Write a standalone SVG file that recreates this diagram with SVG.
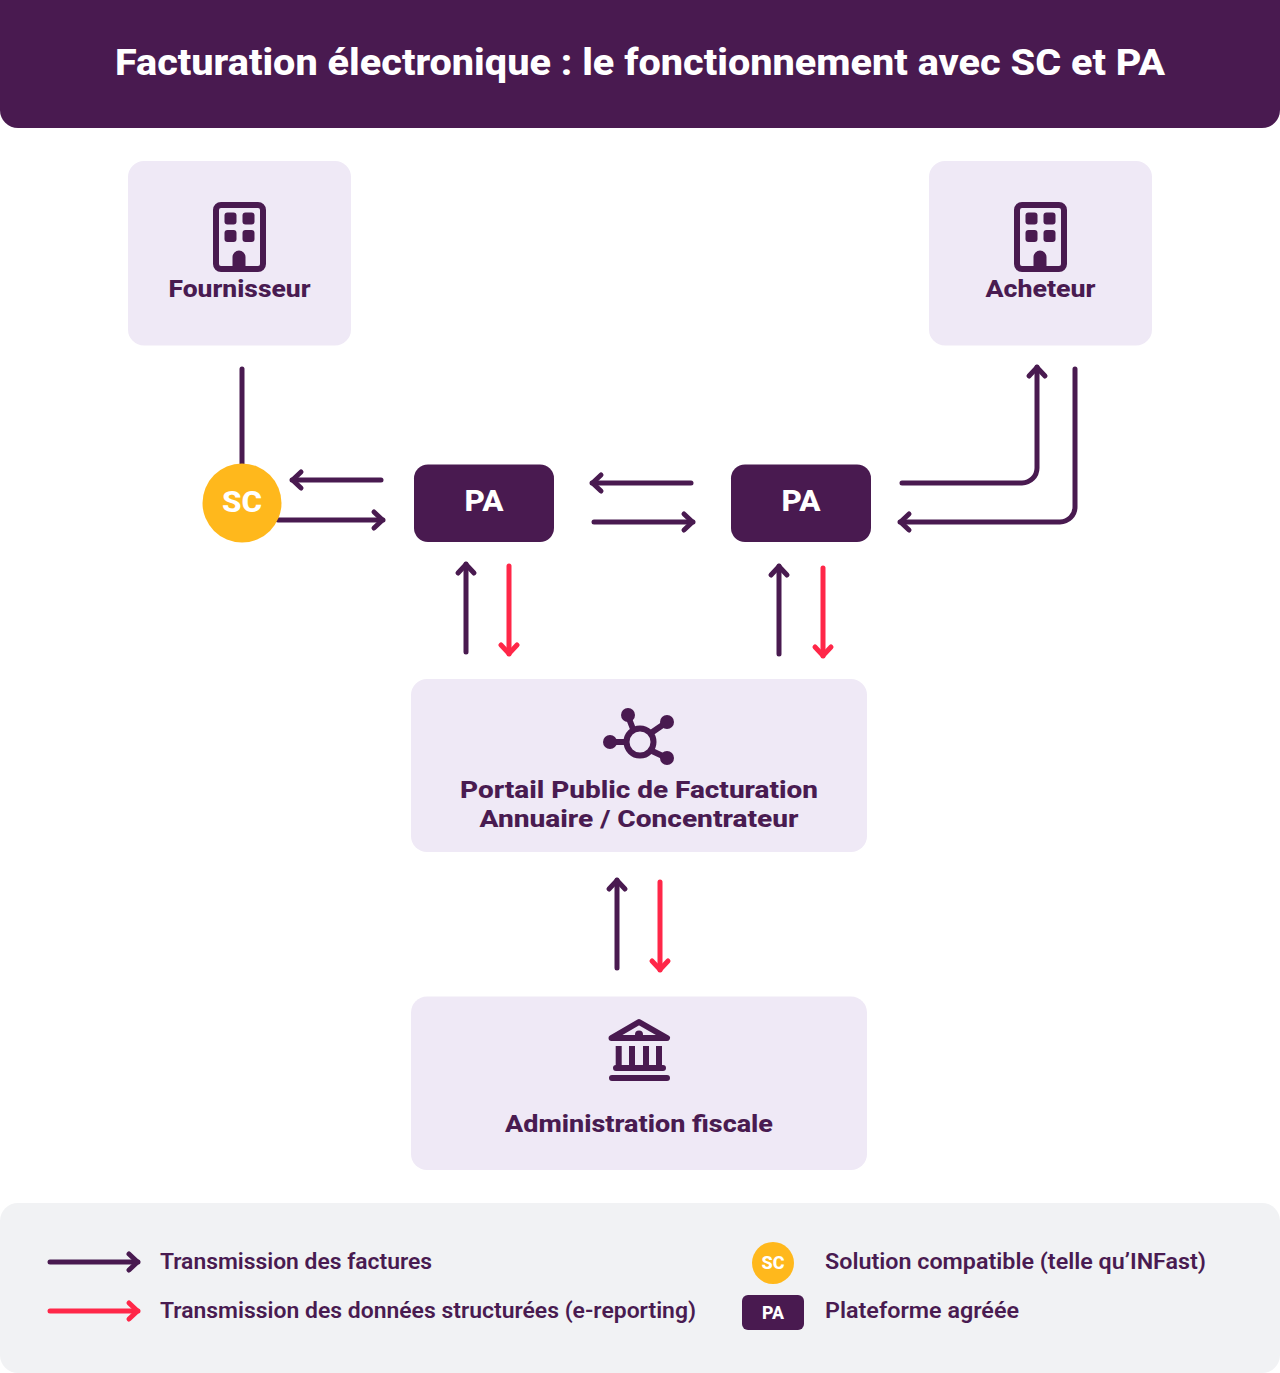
<svg xmlns="http://www.w3.org/2000/svg" width="1280" height="1373" viewBox="0 0 1280 1373">
<defs>
<style>
text{font-family:Roboto,"Noto Sans","Liberation Sans",sans-serif;fill:#491b51;text-anchor:middle}
.b{font-weight:800}
.node{fill:#efe9f6}
.dark{fill:#491a50}
.sc{fill:#ffb81c}
.lab{font-size:24.500px;font-weight:800}
.leg{font-size:22px;font-weight:600;text-anchor:start}
.c{fill:none;stroke-width:5;stroke-linecap:round;stroke-linejoin:round}
.p{stroke:#491a50}
.r{stroke:#ff2748}
.ap{marker-end:url(#mp)}
.ar{marker-end:url(#mr)}
.ic{fill:none;stroke:#491a50;stroke-linecap:round;stroke-linejoin:round}
</style>
<marker id="mp" markerUnits="userSpaceOnUse" markerWidth="24" markerHeight="24" refX="15" refY="12" orient="auto" overflow="visible"><path d="M6 4L14.500 12L6 20" fill="none" stroke="#491a50" stroke-width="5" stroke-linecap="round" stroke-linejoin="round"/></marker>
<marker id="mr" markerUnits="userSpaceOnUse" markerWidth="24" markerHeight="24" refX="15" refY="12" orient="auto" overflow="visible"><path d="M6 4L14.500 12L6 20" fill="none" stroke="#ff2748" stroke-width="5" stroke-linecap="round" stroke-linejoin="round"/></marker>
<g id="bld">
<rect x="-23.500" y="-32" width="47" height="64" rx="5" fill="none" stroke="#491a50" stroke-width="6"/>
<rect x="-15" y="-24.500" width="12" height="12" rx="3" class="dark"/><rect x="3" y="-24.500" width="12" height="12" rx="3" class="dark"/>
<rect x="-15" y="-7" width="12" height="12" rx="3" class="dark"/><rect x="3" y="-7" width="12" height="12" rx="3" class="dark"/>
<path d="M-7 32V20a6.500 6.500 0 0 1 13 0V32Z" class="dark"/>
</g>
</defs>
<g id="title"><path d="M0 0H1280V110a18 18 0 0 1-18 18H18a18 18 0 0 1-18-18Z" class="dark"/>
<text x="640" y="75" font-size="37" class="b" style="fill:#fff" textLength="1050" lengthAdjust="spacingAndGlyphs">Facturation électronique : le fonctionnement avec SC et PA</text></g>
<g id="connectors">
<path class="c p" d="M242 369V465"/>
<path class="c p ap" d="M381 480H292"/>
<path class="c p ap" d="M278 520H383"/>
<path class="c p ap" d="M691 483H592"/>
<path class="c p ap" d="M594 522H693"/>
<path class="c p ap" d="M902 483H1022a15 15 0 0 0 15-15V367"/>
<path class="c p ap" d="M1075 369V507a15 15 0 0 1-15 15H900"/>
<path class="c p ap" d="M466 652V564"/>
<path class="c r ar" d="M509 566V654"/>
<path class="c p ap" d="M779 654V566"/>
<path class="c r ar" d="M823 568V656"/>
<path class="c p ap" d="M617 968V880"/>
<path class="c r ar" d="M660 882V970"/>
</g>
<g id="fournisseur"><rect x="128" y="161" width="223" height="184.500" rx="16" class="node"/>
<use href="#bld" x="239.500" y="237"/>
<text x="239.500" y="297" class="lab" textLength="142" lengthAdjust="spacingAndGlyphs">Fournisseur</text></g>
<g id="acheteur"><rect x="929" y="161" width="223" height="184.500" rx="16" class="node"/>
<use href="#bld" x="1040.500" y="237"/>
<text x="1040.500" y="297" class="lab" textLength="110" lengthAdjust="spacingAndGlyphs">Acheteur</text></g>
<g id="sc"><circle cx="242" cy="503" r="39.500" class="sc"/>
<text x="242" y="512" font-size="29" class="b" style="fill:#fff" textLength="40" lengthAdjust="spacingAndGlyphs">SC</text></g>
<g id="pa1"><rect x="414" y="464.500" width="140" height="77.500" rx="14" class="dark"/>
<text x="484" y="511" font-size="29" class="b" style="fill:#fff" textLength="39" lengthAdjust="spacingAndGlyphs">PA</text></g>
<g id="pa2"><rect x="731" y="464.500" width="140" height="77.500" rx="14" class="dark"/>
<text x="801" y="511" font-size="29" class="b" style="fill:#fff" textLength="39" lengthAdjust="spacingAndGlyphs">PA</text></g>
<g id="portail"><rect x="411" y="679" width="456" height="173" rx="16" class="node"/>
<g class="ic" stroke-width="6"><circle cx="640" cy="742" r="13.500"/><path d="M633 729L628 716M651 733L667 722M652 751L667 758M626 742H610"/></g>
<circle cx="628" cy="715" r="7" class="dark"/><circle cx="667" cy="722" r="7" class="dark"/><circle cx="667" cy="758" r="7" class="dark"/><circle cx="610" cy="742" r="7" class="dark"/>
<text x="639" y="798" class="lab" textLength="358" lengthAdjust="spacingAndGlyphs">Portail Public de Facturation</text>
<text x="639" y="827" class="lab" textLength="319" lengthAdjust="spacingAndGlyphs">Annuaire / Concentrateur</text></g>
<g id="administration"><rect x="411" y="996.500" width="456" height="173.500" rx="16" class="node"/>
<path d="M611.500 1038L639 1022L667 1038Z" fill="none" stroke="#491a50" stroke-width="6" stroke-linejoin="round"/>
<circle cx="639" cy="1034.500" r="4" class="dark"/>
<path d="M618.700 1046V1066M632 1046V1066M646 1046V1066M659 1046V1066" stroke="#491a50" stroke-width="6" fill="none"/>
<path d="M616 1068H663M612 1078H667" stroke="#491a50" stroke-width="6" stroke-linecap="round" fill="none"/>
<text x="639" y="1132" class="lab" textLength="268" lengthAdjust="spacingAndGlyphs">Administration fiscale</text></g>
<g id="legend"><rect x="0" y="1203" width="1280" height="170" rx="18" fill="#f1f2f4"/>
<path class="c p ap" d="M50 1262H138"/>
<path class="c r ar" d="M50 1311H138"/>
<text x="160" y="1269" class="leg" textLength="272" lengthAdjust="spacingAndGlyphs">Transmission des factures</text>
<text x="160" y="1318" class="leg" textLength="536" lengthAdjust="spacingAndGlyphs">Transmission des données structurées (e-reporting)</text>
<circle cx="773" cy="1263" r="21" class="sc"/>
<text x="773" y="1269" font-size="18" class="b" style="fill:#fff" textLength="23" lengthAdjust="spacingAndGlyphs">SC</text>
<rect x="742" y="1295" width="62" height="35" rx="6" class="dark"/>
<text x="773" y="1319" font-size="18" class="b" style="fill:#fff" textLength="22" lengthAdjust="spacingAndGlyphs">PA</text>
<text x="825" y="1269" class="leg" textLength="381" lengthAdjust="spacingAndGlyphs">Solution compatible (telle qu’INFast)</text>
<text x="825" y="1318" class="leg" textLength="194" lengthAdjust="spacingAndGlyphs">Plateforme agréée</text></g>
</svg>
